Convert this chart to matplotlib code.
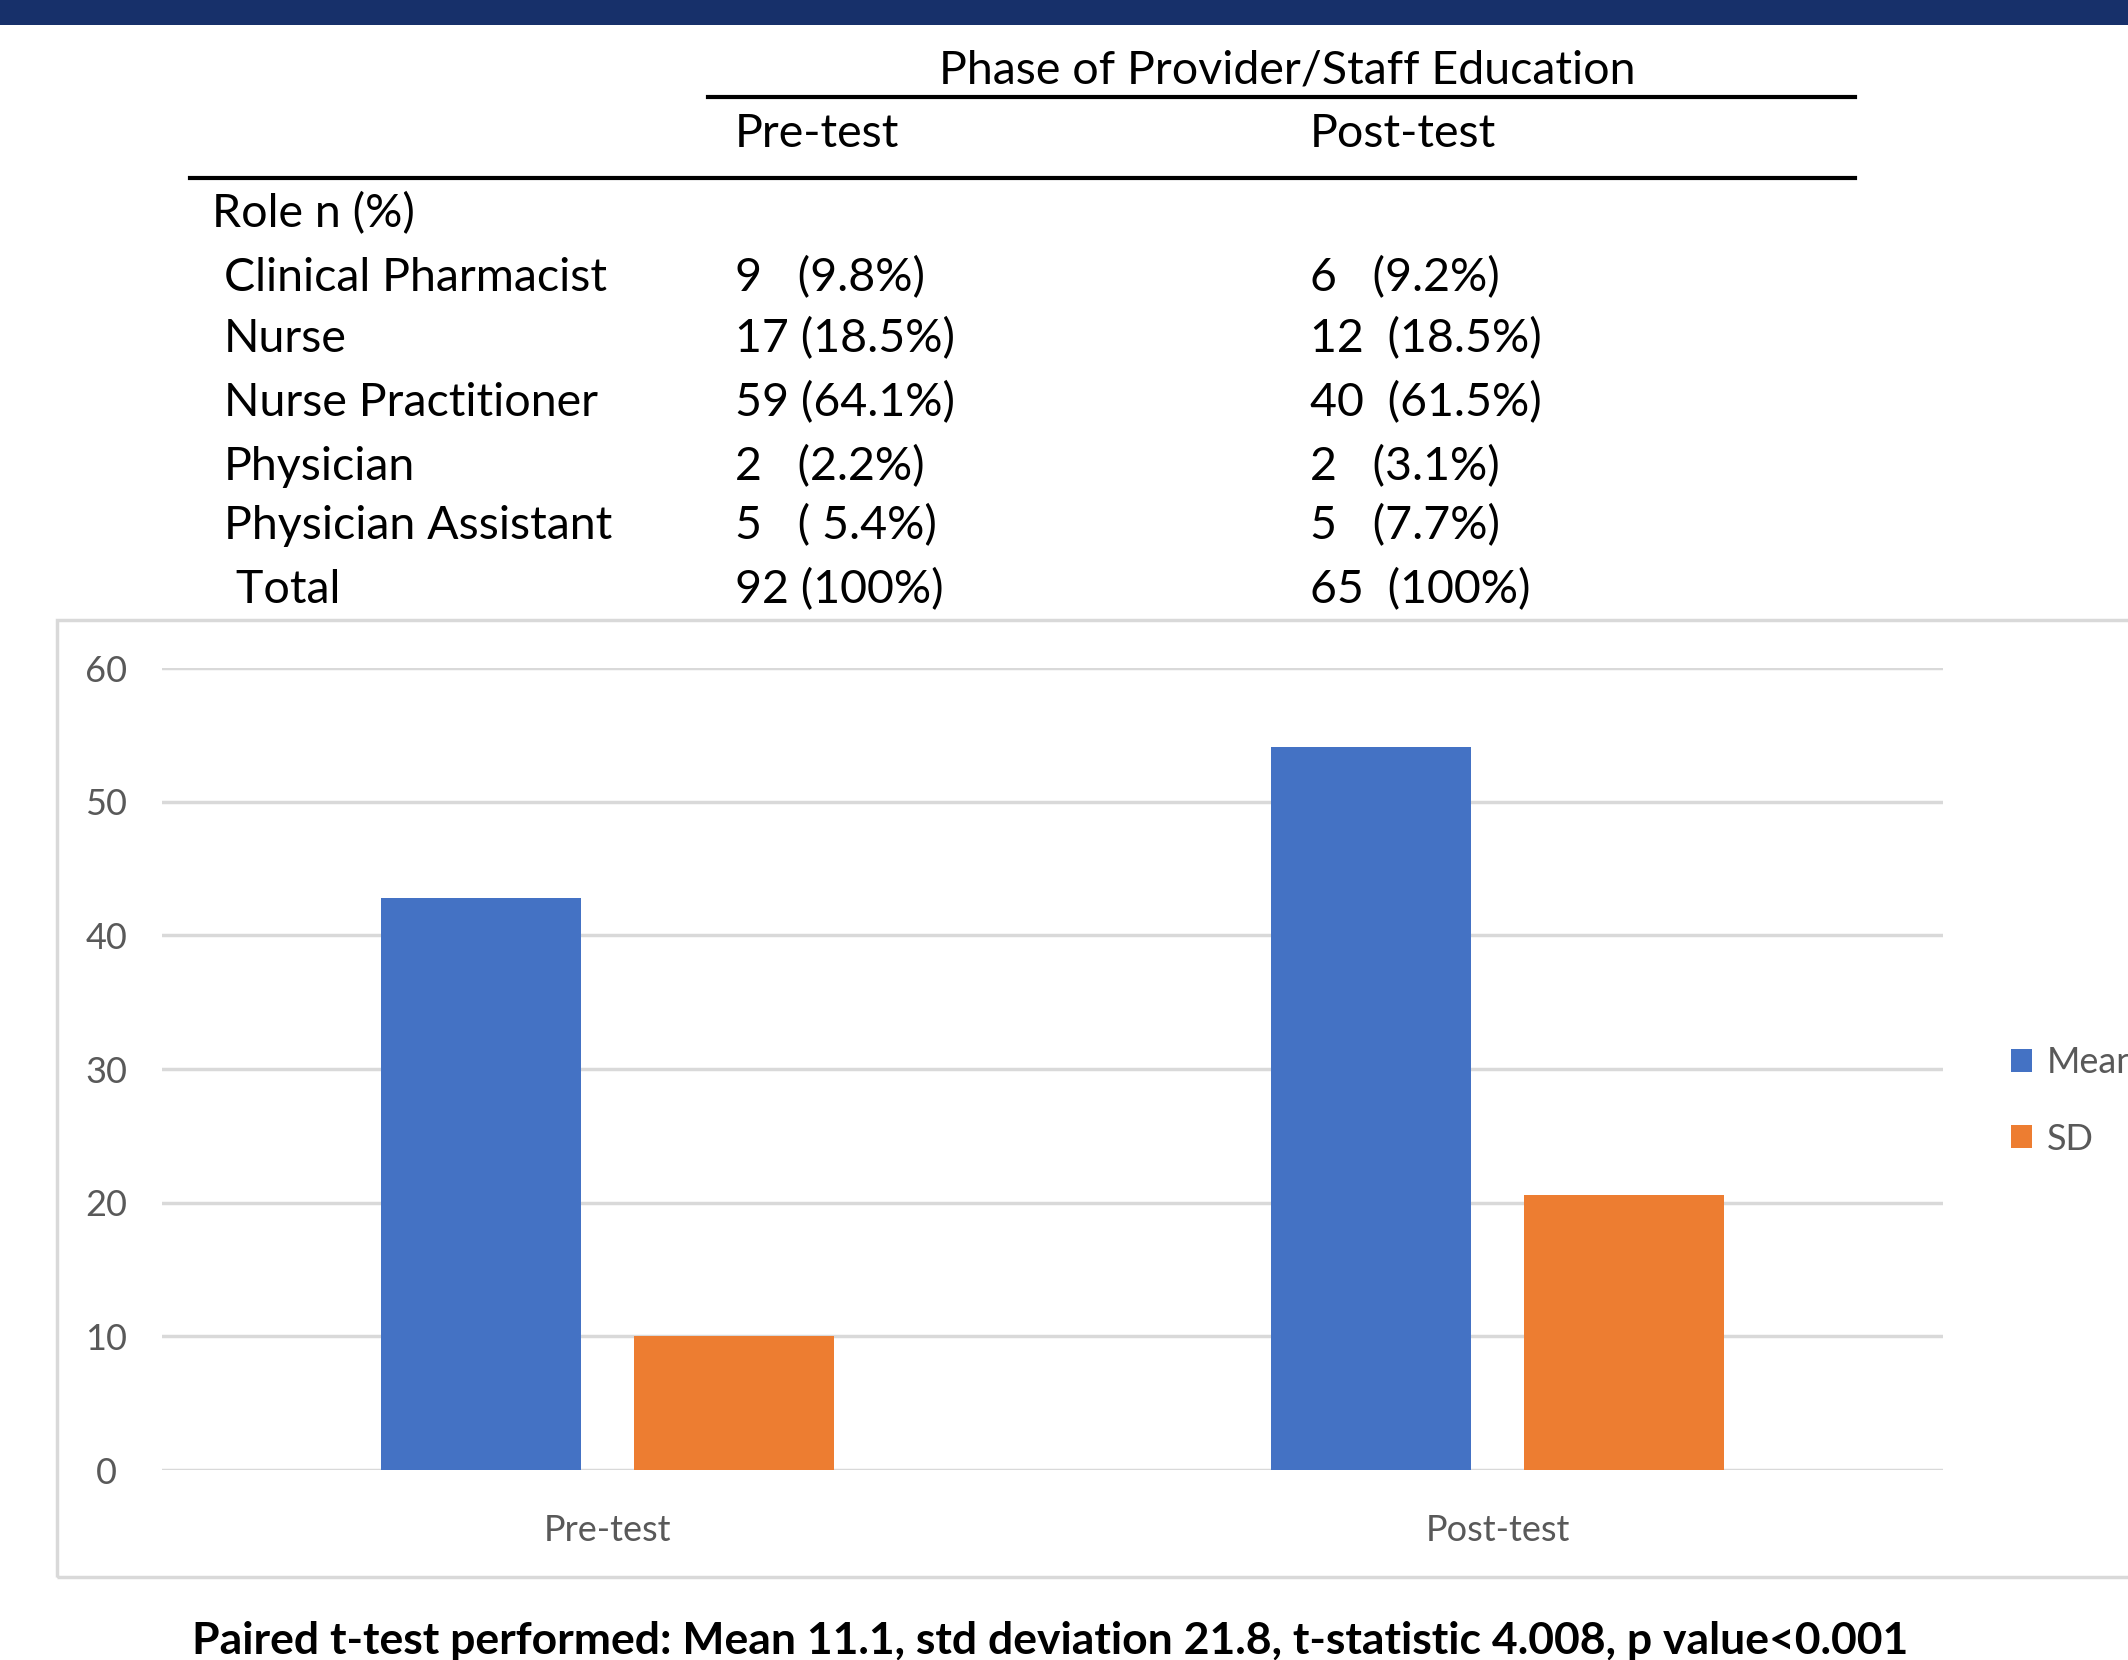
import matplotlib
matplotlib.use("Agg")
import matplotlib.pyplot as plt
from matplotlib.patches import Rectangle
from matplotlib.lines import Line2D
import numpy as np

W, H = 2128, 1660

# table data
roles = ["Clinical Pharmacist", "Nurse", "Nurse Practitioner", "Physician",
         "Physician Assistant", " Total"]
pre_n = ["9   (9.8%)", "17 (18.5%)", "59 (64.1%)", "2   (2.2%)", "5   ( 5.4%)", "92 (100%)"]
post_n = ["6   (9.2%)", "12  (18.5%)", "40  (61.5%)", "2   (3.1%)", "5   (7.7%)", "65  (100%)"]

# chart data
phases = ["Pre-test", "Post-test"]
mean_vals = [42.8, 54.1]
sd_vals = [10.0, 20.6]

plt.rcParams['font.family'] = ['Lato', 'DejaVu Sans']

fig = plt.figure(figsize=(W / 100, H / 100), dpi=100)
fig.patch.set_facecolor('white')


def fx(px):
    return px / W


def fy(py):
    return 1 - py / H


# navy band at top
fig.add_artist(Rectangle((0, fy(25)), 1, 25 / H, transform=fig.transFigure,
                         facecolor='#17306a', edgecolor='none'))

# table
tsize = 33.5
fig.text(fx(1287), fy(70), "Phase of Provider/Staff Education", ha='center', va='center', fontsize=tsize)
fig.add_artist(Line2D([fx(708), fx(1855)], [fy(97), fy(97)], color='black', lw=3, transform=fig.transFigure))
fig.text(fx(735), fy(134), "Pre-test", ha='left', va='center', fontsize=tsize)
fig.text(fx(1310), fy(134), "Post-test", ha='left', va='center', fontsize=tsize)
fig.add_artist(Line2D([fx(190), fx(1855)], [fy(178), fy(178)], color='black', lw=3, transform=fig.transFigure))
fig.text(fx(212), fy(214), "Role n (%)", ha='left', va='center', fontsize=tsize)

row_y = [278, 339, 403, 467, 526, 590]
for i, r in enumerate(roles):
    fig.text(fx(224), fy(row_y[i]), r, ha='left', va='center', fontsize=tsize)
    fig.text(fx(735), fy(row_y[i]), pre_n[i], ha='left', va='center', fontsize=tsize)
    fig.text(fx(1310), fy(row_y[i]), post_n[i], ha='left', va='center', fontsize=tsize)

# chart frame
fig.add_artist(Rectangle((fx(57), fy(1577)), fx(2200 - 57), (1577 - 620) / H,
                         transform=fig.transFigure, facecolor='none',
                         edgecolor='#d9d9d9', lw=2.5))

ax = fig.add_axes([fx(162), fy(1470), fx(1781), 802 / H])
x = np.arange(len(phases))
bw = 0.225
ax.bar(x - 0.142, mean_vals, bw, color='#4472C4', label='Mean', zorder=3)
ax.bar(x + 0.142, sd_vals, bw, color='#ED7D31', label='SD', zorder=3)
ax.set_xlim(-0.5, 1.5)
ax.set_ylim(0, 60)
ax.set_yticks(range(0, 61, 10))
ax.grid(axis='y', color='#d9d9d9', lw=2.5, zorder=0)
for s in ax.spines.values():
    s.set_visible(False)
ax.tick_params(axis='both', length=0, labelsize=26, colors='#595959')
ax.tick_params(axis='x', pad=32)
ax.set_xticks(x)
ax.set_xticklabels(phases)
for lbl in ax.get_yticklabels():
    lbl.set_horizontalalignment('center')
ax.tick_params(axis='y', pad=40)

leg = ax.legend(loc='center left', bbox_to_anchor=(fx(1978), fy(1101)),
                bbox_transform=fig.transFigure, frameon=False, fontsize=26,
                handlelength=0.6, handleheight=0.6, handletextpad=0.4,
                labelspacing=1.2, labelcolor='#595959')

fig.text(fx(1050), fy(1641), "Paired t-test performed: Mean 11.1, std deviation 21.8, t-statistic 4.008, p value<0.001",
         ha='center', va='center', fontsize=32, fontweight='bold')

fig.savefig("out.png", dpi=100)
